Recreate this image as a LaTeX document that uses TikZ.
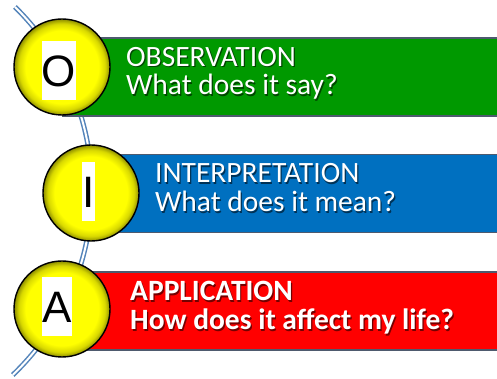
\documentclass[tikz,border=0pt]{standalone}
\usepackage{fontspec}
\setmainfont{Carlito}
\newfontfamily\letterfont{Liberation Sans}
\definecolor{barGreen}{RGB}{0,153,0}
\definecolor{barBlue}{RGB}{0,112,192}
\definecolor{barRed}{RGB}{255,0,0}
\definecolor{barEdge}{RGB}{78,90,110}
\definecolor{ballYellow}{RGB}{255,255,0}
\definecolor{railBlue}{RGB}{84,132,186}
\pgfdeclareradialshading{ballring}{\pgfpoint{0bp}{0bp}}{%
  color(0bp)=(ballYellow); color(19bp)=(ballYellow);
  color(22.5bp)=(ballYellow!85!black); color(25bp)=(ballYellow!55!black);
  color(50bp)=(ballYellow!55!black)}
% white caption text with a soft dark drop shadow
\newcommand{\shd}[2]{\makebox[0pt][l]{\raisebox{-1.2pt}{\hspace{1.2pt}\textcolor{#1}{#2}}}\textcolor{white}{#2}}
\begin{document}
\begin{tikzpicture}[x=1pt,y=1pt,
  bar/.style={draw=barEdge,line width=1.8pt,minimum width=#1,minimum height=78pt,inner sep=0pt,anchor=west},
  ball/.style={circle,minimum size=96pt,inner sep=0pt,draw=black,line width=1.4pt,shading=ballring},
  letterbox/.style={fill=white,inner sep=0pt,minimum height=59pt,minimum width=#1,
    font=\letterfont\fontsize{44}{44}\selectfont},
  caption/.style={anchor=base west,inner sep=0pt,align=left,font=\fontsize{29.5}{#1}\selectfont},
  boldcaption/.style={caption=#1,font=\fontsize{29.5}{#1}\selectfont\bfseries},
  rail/.style={draw=railBlue,line width=1.5pt,double=white,double distance=2pt}]
\useasboundingbox (0,0) rectangle (497,379);
\clip (0,0) rectangle (497,379);
% connecting rail behind the three balls
\coordinate (railtop) at (15,372);
\draw[rail] (railtop) arc[start angle=45.6,end angle=-46.3,radius=256pt] coordinate (railbot);
% coloured bars
\node[bar=440pt,fill=barGreen] (obsbar) at (62,302) {};
\node[bar=411pt,fill=barBlue] (intbar) at (91,185.5) {};
\node[bar=440pt,fill=barRed] (appbar) at (62,68) {};
% balls
\node[ball] (oball) at (62,312) {};
\node[ball] (iball) at (91,186) {};
\node[ball] (aball) at (62,70) {};
% letters on white plates
\node[letterbox=32pt] (oletter) at (59,308) {O};
\node[letterbox=13pt] (iletter) at (88.5,187) {I};
\node[letterbox=28pt] (aletter) at (57,72) {A};
% captions (anchored at the baseline of their second line)
\node[caption=28.5] (obs) at (126,284)
  {\shd{barGreen!45!black}{OBSERVATION}\\\shd{barGreen!45!black}{What does it say?}};
\node[caption=29] (int) at (155,167)
  {\shd{barBlue!45!black}{INTERPRETATION}\\\shd{barBlue!45!black}{What does it mean?}};
\node[boldcaption=29] (app) at (130,49)
  {\shd{barRed!45!black}{APPLICATION}\\\shd{barRed!45!black}{How does it affect my life?}};
\end{tikzpicture}
\end{document}
